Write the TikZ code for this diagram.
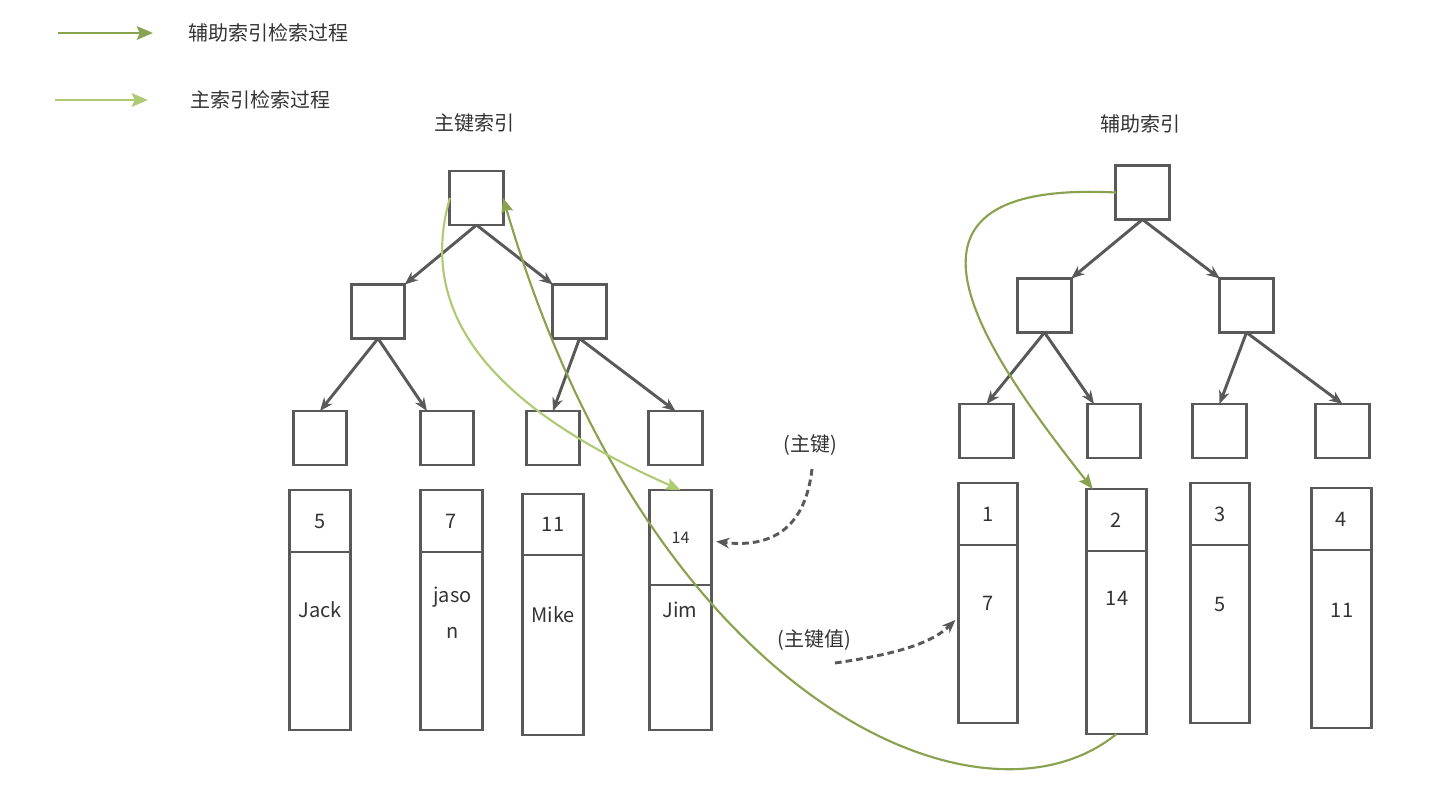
\documentclass[tikz,border=0pt]{standalone}
\usepackage{fontspec}
\setmainfont{Noto Sans CJK SC}
\usetikzlibrary{arrows.meta}
\usetikzlibrary{positioning}
\usetikzlibrary{calc}
\definecolor{boxgray}{HTML}{595959}
\definecolor{darkgreen}{HTML}{88A24F}
\definecolor{lightgreen}{HTML}{AECB74}
\definecolor{txtgray}{HTML}{333333}

\begin{document}
\begin{tikzpicture}[x=0.75pt,y=-0.75pt,>={Stealth[length=10pt,width=8pt]},
					font=\fontsize{15pt}{27pt}\selectfont,text=txtgray]
					\tikzstyle{idx}=[draw=boxgray,line width=2.2pt,minimum width=40pt,minimum height=40.5pt,inner sep=0pt,outer sep=0pt]
					\tikzstyle{keybox}=[draw=boxgray,line width=2.2pt,minimum width=46pt,inner sep=0pt,outer sep=0pt,anchor=north]
					\tikzstyle{tree}=[->,color=boxgray,line width=2.2pt]
					\tikzstyle{mainpath}=[-{Stealth[length=11pt,width=9pt,inset=2pt]},draw=lightgreen,line width=1.6pt]
					\tikzstyle{auxpath}=[-{Stealth[length=11pt,width=9pt,inset=2pt]},draw=darkgreen,line width=1.6pt]
					\tikzstyle{legend}=[line width=2.2pt,-{Stealth[length=12pt,width=10pt,inset=2pt]}]
					\tikzstyle{hint}=[->,draw=boxgray,line width=2.2pt,dash pattern=on 5pt off 3pt]
					
					\useasboundingbox (0,0) rectangle (1431,792);
					
					\coordinate (leg1s) at (58,33);
					\coordinate (leg1e) at (153,33);
					\coordinate (leg2s) at (55,100);
					\coordinate (leg2e) at (148,100);
					\draw[auxpath,legend] (leg1s) -- (leg1e);
					\draw[mainpath,legend] (leg2s) -- (leg2e);
					\node[anchor=west] (leg1) at (184,33)  {辅助索引检索过程};
					\node[anchor=west] (leg2) at (186,100) {主索引检索过程};
					
					\node (ltitle) at (474,123)  {主键索引};
					\node (rtitle) at (1140,124) {辅助索引};
					
					\node[idx] (lroot) at (476.5,198)  {};
					\node[idx] (la)    at (378,311.5)  {};
					\node[idx] (lb)    at (579.5,311.5) {};
					\node[idx] (l1)    at (320,438)    {};
					\node[idx] (l2)    at (447,438)    {};
					\node[idx] (l3)    at (553,438)    {};
					\node[idx] (l4)    at (675.5,438)  {};
					
					\node[idx] (rroot) at (1142.5,192.5) {};
					\node[idx] (ra)    at (1044.5,305.5) {};
					\node[idx] (rb)    at (1246.5,305.5) {};
					\node[idx] (r1)    at (986.5,431)    {};
					\node[idx] (r2)    at (1114,431)     {};
					\node[idx] (r3)    at (1219.5,431)   {};
					\node[idx] (r4)    at (1342.5,431)   {};
					
					\path[tree] (lroot.south) edge (la.north east)
					(lroot.south) edge (lb.north west)
					(la.south)    edge (l1.north)
					(la.south)    edge ([xshift=5pt]l2.north west)
					(lb.south)    edge (l3.north)
					(lb.south)    edge (l4.north)
					(rroot.south) edge (ra.north east)
					(rroot.south) edge (rb.north west)
					(ra.south)    edge (r1.north)
					(ra.south)    edge ([xshift=5pt]r2.north west)
					(rb.south)    edge (r3.north)
					(rb.south)    edge (r4.north);
					
					\node[keybox,minimum height=46.5pt] (k1) at (320,490)   {5};
					\node[keybox,minimum height=133.5pt] (v1) [below=0pt of k1] {};
					\node[keybox,minimum height=46.5pt] (k2) at (451.5,490) {7};
					\node[keybox,minimum height=133.5pt] (v2) [below=0pt of k2] {};
					\node[keybox,minimum height=45.75pt] (k3) at (553,494)  {11};
					\node[keybox,minimum height=135pt]   (v3) [below=0pt of k3] {};
					\node[keybox,minimum height=71.25pt,font=\fontsize{12pt}{14pt}\selectfont] (k4) at (680.5,490) {14};
					\node[keybox,minimum height=108.75pt] (v4) [below=0pt of k4] {};
					
					\node at (320,610) {Jack};
					\node[align=center] at (452.5,613) {jaso\\n};
					\node at (553,615) {Mike};
					\node at (680,610) {Jim};
					
					\node[keybox,minimum width=44.5pt,minimum height=46.5pt] (rk1) at (988,483)    {1};
					\node[keybox,minimum width=44.5pt,minimum height=133.5pt] (rv1) [below=0pt of rk1] {};
					\node[keybox,minimum width=44.5pt,minimum height=46.5pt] (rk2) at (1116.5,489) {2};
					\node[keybox,minimum width=44.5pt,minimum height=137.25pt] (rv2) [below=0pt of rk2] {};
					\node[keybox,minimum width=44.5pt,minimum height=46.5pt] (rk3) at (1220,483)   {3};
					\node[keybox,minimum width=44.5pt,minimum height=133.5pt] (rv3) [below=0pt of rk3] {};
					\node[keybox,minimum width=44.5pt,minimum height=46.5pt] (rk4) at (1341.5,488) {4};
					\node[keybox,minimum width=44.5pt,minimum height=133.5pt] (rv4) [below=0pt of rk4] {};
					
					\node at (988,603)    {7};
					\node at (1117,598)   {14};
					\node at (1220,604)   {5};
					\node at (1342,610)   {11};
					
					\node (pk)  at (810,445) {(主键)};
					\node (pkv) at (814,640) {(主键值)};
					\coordinate (pks)  at (812,469);
					\coordinate (pkvs) at (835,663);
					\draw[hint] (pks) .. controls (805,530) and (770,548) .. ($(k4.east)+(5,4)$);
					\draw[hint] (pkvs) .. controls (890,655) and (930,645) .. ($(rv1.west)+(-3,-14)$);
					
					\draw[auxpath] (rroot.west) .. controls (870,180) and (975,340) .. ($(rk2.north west)!0.1!(rk2.north east)$);
					\draw[auxpath] (rv2.south) .. controls (980,845) and (650,700) .. (lroot.east);
					\draw[mainpath] (lroot.west) .. controls (415,320) and (500,410) .. (k4.north);
					
					\end{tikzpicture}
\end{document}
